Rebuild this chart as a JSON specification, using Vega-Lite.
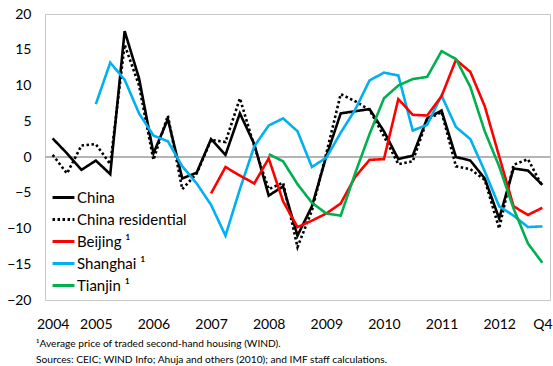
{
  "$schema": "https://vega.github.io/schema/vega-lite/v6.json",
  "width": 505,
  "height": 286,
  "autosize": {"type": "none"},
  "padding": {"left": 45, "top": 14, "right": 3, "bottom": 66},
  "config": {
    "font": "Lato",
    "view": {"stroke": "#c8c8c8", "strokeWidth": 1},
    "axis": {"grid": false, "domain": false, "ticks": false, "labelColor": "#000000", "labelFont": "Lato"},
    "axisY": {"labelOverlap": false, "labelFontSize": 14, "labelPadding": 14, "values": [-20, -15, -10, -5, 0, 5, 10, 15, 20]}
  },
  "title": {
    "text": ["¹Average price of traded second-hand housing (WIND).", "Sources: CEIC; WIND Info; Ahuja and others (2010); and IMF staff calculations."],
    "orient": "bottom",
    "anchor": "start",
    "frame": "group",
    "dx": -9,
    "offset": 8,
    "fontSize": 10.2,
    "fontWeight": "normal",
    "font": "Lato",
    "color": "#000000",
    "lineHeight": 15.5
  },
  "data": {
    "values": [
      {"q": "2004Q2", "China": 2.6, "China residential": 0.3},
      {"q": "2004Q3", "China": 0.5, "China residential": -2.3},
      {"q": "2004Q4", "China": -1.8, "China residential": 1.6},
      {"q": "2005Q1", "China": -0.5, "China residential": 1.8, "Shanghai": 7.4},
      {"q": "2005Q2", "China": -2.4, "China residential": -1.0, "Shanghai": 13.2},
      {"q": "2005Q3", "China": 17.6, "China residential": 15.7, "Shanghai": 10.8},
      {"q": "2005Q4", "China": 11.0, "China residential": 10.0, "Shanghai": 6.1},
      {"q": "2006Q1", "China": 0.5, "China residential": -0.4, "Shanghai": 3.0},
      {"q": "2006Q2", "China": 5.3, "China residential": 5.8, "Shanghai": 2.2},
      {"q": "2006Q3", "China": -3.0, "China residential": -4.5, "Shanghai": -1.3},
      {"q": "2006Q4", "China": -2.2, "China residential": -2.3, "Shanghai": -3.7},
      {"q": "2007Q1", "China": 2.5, "China residential": 2.4, "Shanghai": -6.7, "Beijing": -5.1},
      {"q": "2007Q2", "China": 0.3, "China residential": 2.1, "Shanghai": -11.0, "Beijing": -1.4},
      {"q": "2007Q3", "China": 6.1, "China residential": 8.2, "Shanghai": -4.5, "Beijing": -2.6},
      {"q": "2007Q4", "China": 1.8, "China residential": 1.5, "Shanghai": 1.5, "Beijing": -3.7},
      {"q": "2008Q1", "China": -5.4, "China residential": -4.5, "Shanghai": 4.4, "Beijing": -0.2, "Tianjin": 0.4},
      {"q": "2008Q2", "China": -4.1, "China residential": -3.6, "Shanghai": 5.4, "Beijing": -6.2, "Tianjin": -0.6},
      {"q": "2008Q3", "China": -11.0, "China residential": -12.6, "Shanghai": 3.6, "Beijing": -9.8, "Tianjin": -3.8},
      {"q": "2008Q4", "China": -6.9, "China residential": -7.5, "Shanghai": -1.4, "Beijing": -8.9, "Tianjin": -6.4},
      {"q": "2009Q1", "China": 0.1, "China residential": 0.5, "Shanghai": -0.1, "Beijing": -7.9, "Tianjin": -7.9},
      {"q": "2009Q2", "China": 6.1, "China residential": 8.8, "Shanghai": 3.4, "Beijing": -6.5, "Tianjin": -8.2},
      {"q": "2009Q3", "China": 6.4, "China residential": 7.8, "Shanghai": 6.6, "Beijing": -2.8, "Tianjin": -2.3},
      {"q": "2009Q4", "China": 6.7, "China residential": 6.6, "Shanghai": 10.7, "Beijing": -0.4, "Tianjin": 3.2},
      {"q": "2010Q1", "China": 3.6, "China residential": 2.9, "Shanghai": 11.8, "Beijing": -0.3, "Tianjin": 8.2},
      {"q": "2010Q2", "China": -0.3, "China residential": -1.0, "Shanghai": 11.4, "Beijing": 8.1, "Tianjin": 10.0},
      {"q": "2010Q3", "China": 0.2, "China residential": -0.6, "Shanghai": 3.7, "Beijing": 5.9, "Tianjin": 10.9},
      {"q": "2010Q4", "China": 5.4, "China residential": 5.2, "Shanghai": 4.5, "Beijing": 5.8, "Tianjin": 11.2},
      {"q": "2011Q1", "China": 6.5, "China residential": 6.3, "Shanghai": 8.6, "Beijing": 8.5, "Tianjin": 14.8},
      {"q": "2011Q2", "China": 0.0, "China residential": -1.3, "Shanghai": 4.2, "Beijing": 13.6, "Tianjin": 13.7},
      {"q": "2011Q3", "China": -0.5, "China residential": -1.7, "Shanghai": 2.5, "Beijing": 11.9, "Tianjin": 9.8},
      {"q": "2011Q4", "China": -3.0, "China residential": -3.2, "Shanghai": -2.0, "Beijing": 7.1, "Tianjin": 3.6},
      {"q": "2012Q1", "China": -8.6, "China residential": -10.0, "Shanghai": -6.9, "Beijing": 0.1, "Tianjin": -1.3},
      {"q": "2012Q2", "China": -1.6, "China residential": -1.1, "Shanghai": -8.2, "Beijing": -6.9, "Tianjin": -7.2},
      {"q": "2012Q3", "China": -1.9, "China residential": -0.3, "Shanghai": -9.8, "Beijing": -8.1, "Tianjin": -12.1},
      {"q": "2012Q4", "China": -3.9, "China residential": -4.1, "Shanghai": -9.7, "Beijing": -7.1, "Tianjin": -14.8}
    ]
  },
  "layer": [
    {
      "mark": {"type": "rule", "color": "#b4b4b4", "strokeWidth": 1},
      "encoding": {"y": {"datum": 0, "type": "quantitative", "axis": {"title": null, "labelOverlap": false}}}
    },
    {
      "transform": [
        {"fold": ["Tianjin", "Shanghai", "Beijing", "China residential", "China"], "as": ["series", "v"]},
        {"filter": "isValid(datum.v)"}
      ],
      "mark": {"type": "line", "strokeWidth": 2.6, "strokeJoin": "miter"},
      "encoding": {
        "x": {
          "field": "q",
          "type": "ordinal",
          "scale": {"type": "point", "padding": 0.53},
          "sort": null,
          "axis": {
            "title": null,
            "labelAngle": 0,
            "labelFontSize": 14,
            "labelPadding": 17,
            "labelOverlap": false,
            "labelExpr": "datum.value == '2004Q2' ? '2004' : datum.value == '2012Q4' ? 'Q4' : slice(datum.value, 4) == 'Q1' ? slice(datum.value, 0, 4) : ''"
          }
        },
        "y": {
          "field": "v",
          "type": "quantitative",
          "scale": {"domain": [-20, 20], "nice": false},
          "axis": {"title": null, "labelOverlap": false}
        },
        "color": {
          "field": "series",
          "type": "nominal",
          "scale": {
            "domain": ["China", "China residential", "Beijing", "Shanghai", "Tianjin"],
            "range": ["#000000", "#000000", "#ff0000", "#00b0f0", "#00b050"]
          },
          "legend": {
            "title": null,
            "orient": "bottom-left",
            "offset": 6,
            "labelFontSize": 15,
            "labelColor": "#000000",
            "symbolType": "stroke",
            "symbolSize": 480,
            "symbolStrokeWidth": 3,
            "rowPadding": 1,
            "labelOffset": 1,
            "labelExpr": "datum.label == 'China' || datum.label == 'China residential' ? datum.label : datum.label + ' ¹'"
          }
        },
        "strokeDash": {
          "field": "series",
          "type": "nominal",
          "scale": {
            "domain": ["China", "China residential", "Beijing", "Shanghai", "Tianjin"],
            "range": [[1, 0], [2.5, 2.5], [1, 0], [1, 0], [1, 0]]
          },
          "legend": {
            "title": null,
            "orient": "bottom-left",
            "offset": 6,
            "labelFontSize": 15,
            "labelColor": "#000000",
            "symbolType": "stroke",
            "symbolSize": 480,
            "symbolStrokeWidth": 3,
            "rowPadding": 1,
            "labelOffset": 1,
            "labelExpr": "datum.label == 'China' || datum.label == 'China residential' ? datum.label : datum.label + ' ¹'"
          }
        },
        "order": {"field": "series"}
      }
    }
  ]
}
